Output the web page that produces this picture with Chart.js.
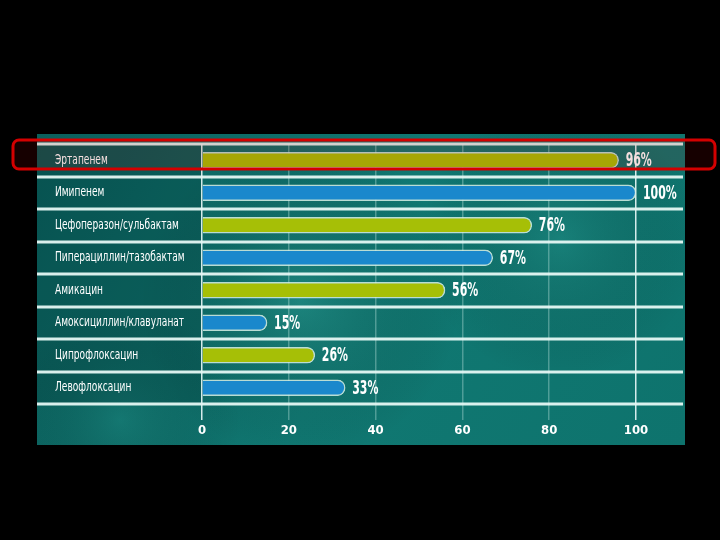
<!DOCTYPE html>
<html>
<head>
<meta charset="utf-8">
<script src="https://cdn.jsdelivr.net/npm/chart.js@4"></script>
<style>
  html, body { margin: 0; padding: 0; background: #000; }
  canvas { display: block; }
</style>
</head>
<body>
<canvas id="myChart" width="720" height="540"></canvas>
<script>
// data
const categories = [
  'Эртапенем',
  'Имипенем',
  'Цефоперазон/сульбактам',
  'Пиперациллин/тазобактам',
  'Амикацин',
  'Амоксициллин/клавуланат',
  'Ципрофлоксацин',
  'Левофлоксацин'
];
const values = [96, 100, 76, 67, 56, 15, 26, 33];
const valueLabels = ['96%', '100%', '76%', '67%', '56%', '15%', '26%', '33%'];
const xTickValues = [0, 20, 40, 60, 80, 100];

const GREEN = '#a6bf06';
const BLUE = '#1a88cc';
const FONT = '"Liberation Sans Narrow", "DejaVu Sans Condensed", "Roboto", sans-serif';

// draws text squeezed horizontally, like the narrow font on the slide
function narrowText(c, text, x, y, squeeze) {
  c.save();
  c.translate(x, y);
  c.scale(squeeze, 1);
  c.fillText(text, 0, 0);
  c.restore();
}

const backdrop = {
  id: 'backdrop',
  beforeDraw(chart) {
    const c = chart.ctx;
    c.save();
    c.fillStyle = '#000';
    c.fillRect(0, 0, chart.width, chart.height);

    const px = 37, py = 134, pw = 648, ph = 311;
    let g = c.createLinearGradient(px, py, px + pw, py + ph);
    g.addColorStop(0, '#0a5f5c');
    g.addColorStop(0.5, '#107872');
    g.addColorStop(1, '#0e736d');
    c.fillStyle = g;
    c.fillRect(px, py, pw, ph);

    // soft light spots
    [[300, 300, 160, 'rgba(60,170,160,0.3)'], [560, 240, 140, 'rgba(50,160,150,0.25)'], [120, 420, 120, 'rgba(40,150,140,0.25)']].forEach(([x, y, r, col]) => {
      const rg = c.createRadialGradient(x, y, 0, x, y, r);
      rg.addColorStop(0, col);
      rg.addColorStop(1, 'rgba(0,0,0,0)');
      c.fillStyle = rg;
      c.fillRect(px, py, pw, ph);
    });

    // darker label column
    c.fillStyle = 'rgba(0,40,40,0.22)';
    c.fillRect(px, 144, 202 - px, 260);
    c.restore();
  },
  beforeDatasetsDraw(chart) {
    const c = chart.ctx;
    const y = chart.scales.y;
    const step = y.getPixelForValue(1) - y.getPixelForValue(0);
    c.save();
    c.strokeStyle = 'rgba(230,248,244,0.95)';
    c.lineWidth = 3;
    for (let i = 0; i <= categories.length; i++) {
      const yy = Math.round(y.getPixelForValue(i) - step / 2);
      c.beginPath();
      c.moveTo(37, yy);
      c.lineTo(683, yy);
      c.stroke();
    }
    c.restore();
  },
  afterDraw(chart) {
    const c = chart.ctx;
    const y = chart.scales.y;
    c.save();
    c.fillStyle = '#ffffff';
    c.textBaseline = 'middle';
    c.textAlign = 'left';

    // category names
    c.font = '14px ' + FONT;
    categories.forEach((name, i) => {
      narrowText(c, name, 55, y.getPixelForValue(i), 0.72);
    });

    // value labels next to the bars
    c.font = 'bold 19px ' + FONT;
    chart.getDatasetMeta(0).data.forEach((bar, i) => {
      narrowText(c, valueLabels[i], bar.x + 7, bar.y + 1, 0.64);
    });

    // red highlight around the first row
    c.beginPath();
    c.roundRect(13, 140, 702, 29, 6);
    c.fillStyle = 'rgba(170,0,0,0.13)';
    c.fill();
    c.lineWidth = 3;
    c.strokeStyle = '#d40000';
    c.stroke();
    c.restore();
  }
};

const ctx = document.getElementById('myChart').getContext('2d');
new Chart(ctx, {
  type: 'bar',
  data: {
    labels: categories,
    datasets: [{
      data: values,
      backgroundColor: values.map((v, i) => i % 2 === 0 ? GREEN : BLUE),
      borderColor: 'rgba(215,240,230,0.85)',
      borderWidth: 1.5,
      borderSkipped: 'left',
      borderRadius: { topRight: 8, bottomRight: 8 },
      barThickness: 16
    }]
  },
  options: {
    indexAxis: 'y',
    responsive: false,
    animation: false,
    layout: { padding: { left: 202, right: 84, top: 144, bottom: 96 } },
    plugins: {
      legend: { display: false },
      tooltip: { enabled: false }
    },
    scales: {
      y: { display: false },
      x: {
        min: 0,
        max: 100,
        afterFit(scale) { scale.height = 40; },
        afterBuildTicks(scale) { scale.ticks = xTickValues.map(v => ({ value: v })); },
        border: { display: false },
        grid: {
          drawTicks: true,
          tickLength: 16,
          lineWidth: 1.5,
          color: c => (c.tick && (c.tick.value === 0 || c.tick.value === 100)) ? 'rgba(235,250,250,0.9)' : 'rgba(200,235,230,0.35)'
        },
        ticks: {
          color: '#ffffff',
          padding: 3,
          font: { family: FONT, size: 13, weight: 'bold' }
        }
      }
    }
  },
  plugins: [backdrop]
});
</script>
</body>
</html>
